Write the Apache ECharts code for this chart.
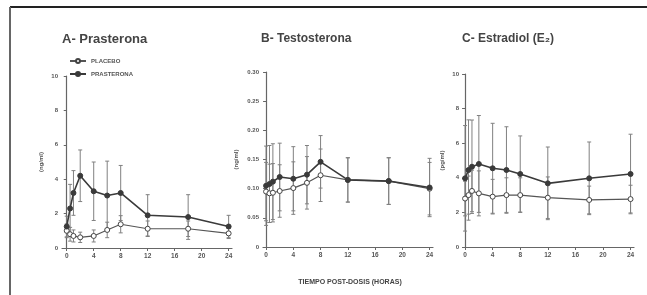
<!DOCTYPE html>
<html>
<head>
<meta charset="utf-8">
<script src="https://cdn.jsdelivr.net/npm/echarts@6/dist/echarts.min.js"></script>
<style>
html,body{margin:0;padding:0;background:#fff;}
#c{width:647px;height:295px;}
</style>
</head>
<body>
<div id="c"></div>
<script>
// ---- data ----
const times = [0, 0.5, 1, 2, 4, 6, 8, 12, 18, 24];
const xTicks = [0, 4, 8, 12, 16, 20, 24];

const prasteronaA = [1.25, 2.3, 3.2, 4.2, 3.3, 3.05, 3.2, 1.9, 1.8, 1.25];
const prasteronaA_sd = [0.6, 1.4, 1.3, 1.5, 1.7, 2.0, 1.6, 1.2, 1.3, 0.65];
const placeboA = [1.0, 0.8, 0.7, 0.62, 0.7, 1.05, 1.38, 1.12, 1.12, 0.85];
const placeboA_sd = [0.4, 0.4, 0.35, 0.3, 0.35, 0.45, 0.5, 0.45, 0.45, 0.3];

const prasteronaB = [0.105, 0.108, 0.112, 0.120, 0.117, 0.124, 0.146, 0.115, 0.113, 0.102];
const prasteronaB_sd = [0.068, 0.066, 0.065, 0.058, 0.055, 0.050, 0.045, 0.038, 0.040, 0.050];
const placeboB = [0.095, 0.092, 0.093, 0.096, 0.101, 0.110, 0.123, 0.115, 0.113, 0.100];
const placeboB_sd = [0.050, 0.050, 0.050, 0.045, 0.045, 0.045, 0.045, 0.038, 0.040, 0.045];

const prasteronaC = [3.97, 4.45, 4.64, 4.8, 4.55, 4.45, 4.22, 3.68, 3.97, 4.22];
const prasteronaC_sd = [3.05, 2.9, 2.7, 2.8, 2.6, 2.5, 2.2, 2.1, 2.1, 2.3];
const placeboC = [2.8, 3.0, 3.24, 3.1, 2.91, 3.0, 3.0, 2.85, 2.72, 2.77];
const placeboC_sd = [1.0, 1.1, 1.2, 1.3, 1.0, 1.0, 1.0, 1.2, 0.8, 0.8];

const yTicksA = [0, 2, 4, 6, 8, 10];
const yTicksB = [0, 0.05, 0.10, 0.15, 0.20, 0.25, 0.30];
const yTicksC = [0, 2, 4, 6, 8, 10];

const titles = ['A- Prasterona', 'B- Testosterona', 'C- Estradiol (E\u2082)'];
const yNames = ['(ng/ml)', '(ng/ml)', '(pg/ml)'];
const xName = 'TIEMPO POST-DOSIS (HORAS)';
const seriesNames = ['PLACEBO', 'PRASTERONA'];

// ---- chart ----
const chart = echarts.init(document.getElementById('c'), null, {renderer: 'canvas'});
const FONT = 'Liberation Sans, Arial, sans-serif';
const AX = '#666';
const LINE = '#3a3a3a';

function pts(vals) { return times.map((t, i) => [t, vals[i]]); }
function errs(vals, sd) { return times.map((t, i) => [t, Math.max(0, vals[i] - sd[i]), vals[i] + sd[i]]); }

function errorRender(params, api) {
  const x = api.value(0), lo = api.value(1), hi = api.value(2);
  const p1 = api.coord([x, hi]);
  const p2 = api.coord([x, lo]);
  const w = 2;
  const st = {stroke: '#808080', lineWidth: 1};
  return {type: 'group', children: [
    {type: 'line', shape: {x1: p1[0], y1: p1[1], x2: p2[0], y2: p2[1]}, style: st},
    {type: 'line', shape: {x1: p1[0] - w, y1: p1[1], x2: p1[0] + w, y2: p1[1]}, style: st},
    {type: 'line', shape: {x1: p2[0] - w, y1: p2[1], x2: p2[0] + w, y2: p2[1]}, style: st}
  ]};
}

const grids = [
  {left: 62, right: 415, top: 76, bottom: 47},
  {left: 263, right: 214, top: 72, bottom: 48},
  {left: 463, right: 13, top: 74, bottom: 48}
];
const xMins = [-0.7, -0.45, -0.3];
const yMax = [10, 0.30, 10];
const yInt = [2, 0.05, 2];

const xAxes = grids.map((g, i) => ({
  type: 'value', gridIndex: i, min: xMins[i], max: 24.5,
  axisLine: {lineStyle: {color: AX, width: 1.2}},
  axisTick: {show: true, length: 3, customValues: xTicks, lineStyle: {color: AX}},
  axisLabel: {customValues: xTicks, fontSize: 6.5, color: '#555', fontFamily: FONT, fontWeight: 'bold', margin: 5},
  splitLine: {show: false}
}));
const yAxes = grids.map((g, i) => ({
  type: 'value', gridIndex: i, min: 0, max: yMax[i], interval: yInt[i],
  name: yNames[i], nameLocation: 'middle', nameGap: i === 1 ? 24 : 18, nameRotate: 90,
  nameTextStyle: {fontSize: 6, color: '#555', fontFamily: FONT, fontWeight: 'bold'},
  axisLine: {show: true, lineStyle: {color: AX, width: 1.2}},
  axisTick: {show: true, length: 3, lineStyle: {color: AX}},
  axisLabel: {fontSize: 6, color: '#555', fontFamily: FONT, fontWeight: 'bold', margin: 4,
    formatter: v => (v === 0 ? '0' : (i === 1 ? v.toFixed(2) : String(v)))},
  splitLine: {show: false}
}));

const data = [
  [placeboA, placeboA_sd, prasteronaA, prasteronaA_sd],
  [placeboB, placeboB_sd, prasteronaB, prasteronaB_sd],
  [placeboC, placeboC_sd, prasteronaC, prasteronaC_sd]
];

const series = [];
data.forEach((d, i) => {
  series.push({type: 'custom', xAxisIndex: i, yAxisIndex: i, renderItem: errorRender, data: errs(d[0], d[1]), z: 1, silent: true});
  series.push({type: 'custom', xAxisIndex: i, yAxisIndex: i, renderItem: errorRender, data: errs(d[2], d[3]), z: 1, silent: true});
  series.push({
    name: seriesNames[0], type: 'line', xAxisIndex: i, yAxisIndex: i, data: pts(d[0]),
    symbol: 'circle', symbolSize: 5, z: 3,
    lineStyle: {color: '#555', width: 1.2},
    itemStyle: {color: '#fff', borderColor: '#444', borderWidth: 1}
  });
  series.push({
    name: seriesNames[1], type: 'line', xAxisIndex: i, yAxisIndex: i, data: pts(d[2]),
    symbol: 'circle', symbolSize: 5, z: 4,
    lineStyle: {color: LINE, width: 1.6},
    itemStyle: {color: LINE, borderColor: LINE, borderWidth: 1}
  });
});

const option = {
  animation: false,
  backgroundColor: '#fff',
  grid: grids,
  xAxis: xAxes,
  yAxis: yAxes,
  legend: {
    data: seriesNames, orient: 'vertical', left: 64, top: 53, itemGap: 7,
    itemWidth: 16, itemHeight: 5,
    textStyle: {fontSize: 6, color: '#555', fontFamily: FONT, fontWeight: 'bold'}
  },
  graphic: [
    {type: 'line', shape: {x1: 10, y1: 7, x2: 647, y2: 7}, style: {stroke: '#222', lineWidth: 2}},
    {type: 'line', shape: {x1: 10, y1: 7, x2: 10, y2: 295}, style: {stroke: '#666', lineWidth: 2}},
    {type: 'text', left: 62, top: 33, style: {text: titles[0], font: 'bold 13px ' + FONT, fill: '#444'}},
    {type: 'text', left: 261, top: 33, style: {text: titles[1], font: 'bold 12px ' + FONT, fill: '#444'}},
    {type: 'text', left: 462, top: 33, style: {text: titles[2], font: 'bold 12px ' + FONT, fill: '#444'}},
    {type: 'text', x: 350, y: 282, style: {text: xName, font: 'bold 7px ' + FONT, fill: '#444', align: 'center', verticalAlign: 'middle'}}
  ],
  series: series
};
chart.setOption(option);
</script>
</body>
</html>
